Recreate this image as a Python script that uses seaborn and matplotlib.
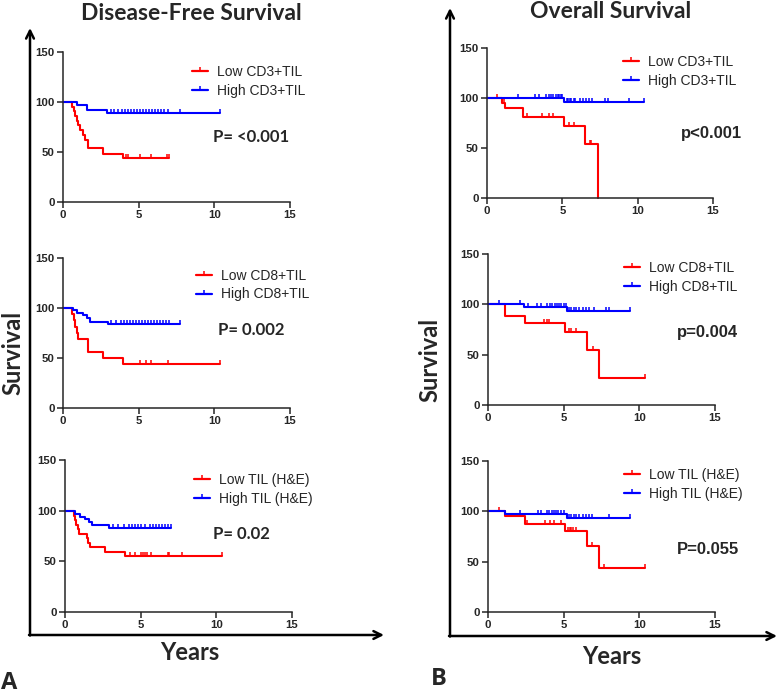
import numpy as np
import pandas as pd
import seaborn as sns
import matplotlib.pyplot as plt
from matplotlib.lines import Line2D

# step curves: drop times (yrs), survival (%) after each drop, last follow-up, censor times
# ---- A: disease-free survival ----
dfs_cd3_low_t = [0, 0.6, 0.7, 0.8, 0.9, 1.0, 1.15, 1.3, 1.45, 1.65, 2.65, 3.95]
dfs_cd3_low_s = [100, 95, 91, 86, 81, 77, 72, 67, 62, 54, 48, 44]
dfs_cd3_low_end = 7.0
dfs_cd3_low_cens = [4.15, 4.3, 5.1, 5.8, 6.9, 7.0]
dfs_cd3_high_t = [0, 0.9, 1.6, 2.9]
dfs_cd3_high_s = [100, 97, 92, 89]
dfs_cd3_high_end = 10.4
dfs_cd3_high_cens = [3.2, 3.4, 3.65, 3.9, 4.1, 4.3, 4.5, 4.7, 4.9, 5.1, 5.3, 5.5, 5.7,
                     5.9, 6.1, 6.3, 6.5, 6.7, 6.95, 7.7, 10.4]

dfs_cd8_low_t = [0, 0.6, 0.7, 0.8, 0.9, 1.0, 1.65, 2.65, 3.95]
dfs_cd8_low_s = [100, 94, 88, 81, 75, 69, 56, 50, 44]
dfs_cd8_low_end = 10.4
dfs_cd8_low_cens = [5.1, 5.5, 5.8, 6.95, 10.4]
dfs_cd8_high_t = [0, 0.68, 0.9, 1.35, 1.57, 1.78, 2.95]
dfs_cd8_high_s = [100, 98, 95, 93, 90, 86, 84]
dfs_cd8_high_end = 7.7
dfs_cd8_high_cens = [3.2, 3.5, 3.8, 4.0, 4.2, 4.4, 4.6, 4.8, 5.0, 5.2, 5.4, 5.6, 5.8,
                     6.0, 6.2, 6.4, 6.6, 6.8, 7.0, 7.7]

dfs_he_low_t = [0, 0.6, 0.65, 0.75, 0.85, 0.95, 1.45, 1.55, 1.65, 2.65, 3.95]
dfs_he_low_s = [100, 95, 91, 86, 82, 77, 73, 68, 64, 59, 55]
dfs_he_low_end = 10.4
dfs_he_low_cens = [4.3, 4.65, 5.0, 5.15, 5.3, 5.45, 5.7, 6.8, 6.9, 7.7, 10.4]
dfs_he_high_t = [0, 0.66, 1.0, 1.3, 1.6, 1.76, 2.93]
dfs_he_high_s = [100, 97, 94, 92, 89, 86, 83]
dfs_he_high_end = 7.0
dfs_he_high_cens = [3.2, 3.5, 3.9, 4.2, 4.4, 4.6, 4.8, 5.0, 5.3, 5.6, 5.8, 6.0, 6.2,
                    6.4, 6.6, 6.8, 7.0]

# ---- B: overall survival ----
os_cd3_low_t = [0, 1.0, 1.17, 2.41, 5.1, 6.48, 7.39]
os_cd3_low_s = [100, 95, 90, 81, 72, 54, 0]
os_cd3_low_end = 7.39
os_cd3_low_cens = [0.68, 1.1, 2.63, 3.67, 4.1, 4.4, 5.45, 5.77, 6.85, 6.92]
os_cd3_high_t = [0, 5.1]
os_cd3_high_s = [100, 96]
os_cd3_high_end = 10.4
os_cd3_high_cens = [2.05, 3.2, 3.45, 3.9, 4.1, 4.25, 4.4, 4.6, 4.7, 4.8, 4.9, 5.0,
                    5.3, 5.4, 5.5, 5.6, 5.75, 5.85, 6.2, 6.4, 6.6, 6.8, 6.95,
                    7.8, 8.0, 9.4, 10.4]

os_cd8_low_t = [0, 1.1, 1.15, 2.45, 5.1, 6.52, 7.36]
os_cd8_low_s = [100, 94, 88, 81, 73, 55, 27]
os_cd8_low_end = 10.4
os_cd8_low_cens = [1.15, 3.7, 3.88, 4.03, 5.35, 5.5, 5.8, 6.96, 10.4]
os_cd8_high_t = [0, 2.4, 5.2]
os_cd8_high_s = [100, 97, 93]
os_cd8_high_end = 9.4
os_cd8_high_cens = [0.73, 2.1, 2.67, 3.26, 3.48, 3.92, 4.1, 4.25, 4.4, 4.55, 4.7,
                    4.85, 5.0, 5.13, 5.35, 5.5, 5.65, 5.8, 6.0, 6.3, 6.5, 6.7, 7.0,
                    7.78, 8.0, 9.4]

os_he_low_t = [0, 1.12, 2.45, 5.1, 6.52, 7.36]
os_he_low_s = [100, 95, 87, 80, 66, 44]
os_he_low_end = 10.4
os_he_low_cens = [0.73, 2.56, 3.75, 4.1, 4.36, 4.8, 5.3, 5.4, 5.5, 5.6, 5.8, 6.9,
                  7.67, 10.4]
os_he_high_t = [0, 1.1, 5.2]
os_he_high_s = [100, 97, 93]
os_he_high_end = 9.4
os_he_high_cens = [2.1, 3.3, 3.5, 3.9, 4.05, 4.2, 4.35, 4.5, 4.65, 4.8, 5.0,
                   5.35, 5.5, 5.65, 5.8, 6.0, 6.3, 6.5, 6.7, 6.9, 8.0, 9.4]

# legend labels and p-values
labels_cd3 = ["Low CD3+TIL", "High CD3+TIL"]
labels_cd8 = ["Low CD8+TIL", "High CD8+TIL"]
labels_he = ["Low TIL (H&E)", "High TIL (H&E)"]
p_dfs = ["P= <0.001", "P= 0.002", "P= 0.02"]
p_os = ["p<0.001", "p=0.004", "P=0.055"]

RED = "#ff0000"
BLUE = "#0000ff"
TICK_FONT = ["Liberation Sans", "DejaVu Sans"]
TITLE_FONT = ["Lato", "DejaVu Sans"]
LETTER_FONT = ["Open Sans", "DejaVu Sans"]

sns.set_style("ticks")
plt.rcParams["font.family"] = TICK_FONT

fig = plt.figure(figsize=(7.78, 6.96), dpi=100)


def km(ax, t, s, end, cens, color):
    x = list(t) + [end]
    y = list(s) + [s[-1]]
    sns.lineplot(x=x, y=y, ax=ax, color=color, lw=1.5, drawstyle="steps-post",
                 estimator=None, sort=False, clip_on=False)
    idx = np.searchsorted(t, cens, side="right") - 1
    cy = np.array(s)[idx]
    ax.plot(cens, cy, linestyle="none", marker=2, ms=3, mew=1.1, color=color,
            clip_on=False)


def panel(rect, low, high, labels, ptxt, ppos, pfont, leg_anchor):
    ax = fig.add_axes(rect)
    km(ax, *low, RED)
    km(ax, *high, BLUE)
    ax.set_xlim(0, 15)
    ax.set_ylim(0, 150)
    ax.set_xticks([0, 5, 10, 15])
    ax.set_yticks([0, 50, 100, 150])
    ax.tick_params(length=4, width=1.1, labelsize=8.2, pad=2)
    for lab in ax.get_xticklabels() + ax.get_yticklabels():
        lab.set_fontweight("bold")
    sns.despine(ax=ax)
    for sp in ["left", "bottom"]:
        ax.spines[sp].set_linewidth(1.1)
    ax.set_xlabel("")
    ax.set_ylabel("")
    handles = [Line2D([], [], color=RED, lw=1.6, marker=2, ms=3, mew=1.1),
               Line2D([], [], color=BLUE, lw=1.6, marker=2, ms=3, mew=1.1)]
    ax.legend(handles, labels, loc="upper left", bbox_to_anchor=leg_anchor,
              frameon=False, fontsize=10, handlelength=1.15, handletextpad=0.65,
              labelspacing=0.35, borderpad=0, borderaxespad=0, numpoints=1)
    ax.text(ppos[0], ppos[1], ptxt, fontsize=12, fontweight="bold",
            family=pfont, va="center", ha="left")
    return ax


W, H = 778.0, 696.0


def rect(x0, x1, y0, y1):
    return [x0 / W, 1 - y1 / H, (x1 - x0) / W, (y1 - y0) / H]


panel(rect(63, 290, 52, 202),
      (dfs_cd3_low_t, dfs_cd3_low_s, dfs_cd3_low_end, dfs_cd3_low_cens),
      (dfs_cd3_high_t, dfs_cd3_high_s, dfs_cd3_high_end, dfs_cd3_high_cens),
      labels_cd3, p_dfs[0], (9.9, 65), TITLE_FONT, (0.57, 0.915))
panel(rect(63, 290, 258, 408),
      (dfs_cd8_low_t, dfs_cd8_low_s, dfs_cd8_low_end, dfs_cd8_low_cens),
      (dfs_cd8_high_t, dfs_cd8_high_s, dfs_cd8_high_end, dfs_cd8_high_cens),
      labels_cd8, p_dfs[1], (10.25, 78), TITLE_FONT, (0.585, 0.93))
panel(rect(65, 292, 460, 612),
      (dfs_he_low_t, dfs_he_low_s, dfs_he_low_end, dfs_he_low_cens),
      (dfs_he_high_t, dfs_he_high_s, dfs_he_high_end, dfs_he_high_cens),
      labels_he, p_dfs[2], (9.8, 77), TITLE_FONT, (0.57, 0.915))
panel(rect(487, 713, 48, 198),
      (os_cd3_low_t, os_cd3_low_s, os_cd3_low_end, os_cd3_low_cens),
      (os_cd3_high_t, os_cd3_high_s, os_cd3_high_end, os_cd3_high_cens),
      labels_cd3, p_os[0], (12.9, 65), TICK_FONT, (0.60, 0.955))
panel(rect(488, 715, 254, 405),
      (os_cd8_low_t, os_cd8_low_s, os_cd8_low_end, os_cd8_low_cens),
      (os_cd8_high_t, os_cd8_high_s, os_cd8_high_end, os_cd8_high_cens),
      labels_cd8, p_os[1], (12.5, 72), TICK_FONT, (0.60, 0.955))
panel(rect(488, 715, 461, 612),
      (os_he_low_t, os_he_low_s, os_he_low_end, os_he_low_cens),
      (os_he_high_t, os_he_high_s, os_he_high_end, os_he_high_cens),
      labels_he, p_os[2], (12.5, 62), TICK_FONT, (0.60, 0.955))

# overlay in pixel coordinates for the big arrows and panel labels
ov = fig.add_axes([0, 0, 1, 1], zorder=-1)
ov.set_xlim(0, W)
ov.set_ylim(H, 0)
ov.axis("off")
arrow = dict(arrowstyle="->", lw=1.8, color="black", mutation_scale=14,
             shrinkA=0, shrinkB=0)
ov.annotate("", xy=(30, 28), xytext=(30, 635.5), arrowprops=arrow)
ov.annotate("", xy=(384, 635), xytext=(29, 635), arrowprops=arrow)
ov.annotate("", xy=(450, 8), xytext=(450, 636.5), arrowprops=arrow)
ov.annotate("", xy=(777, 636), xytext=(449, 636), arrowprops=arrow)

tkw = dict(fontweight="bold", family=TITLE_FONT, ha="center", va="center")
ov.text(191, 14, "Disease-Free Survival", fontsize=16.5, **tkw)
ov.text(611, 11, "Overall Survival", fontsize=16.5, **tkw)
ov.text(13, 353, "Survival", fontsize=17, rotation=90, **tkw)
ov.text(430, 360, "Survival", fontsize=17, rotation=90, **tkw)
ov.text(190, 652, "Years", fontsize=17, **tkw)
ov.text(612, 657, "Years", fontsize=17, **tkw)
lkw = dict(fontweight="bold", family=LETTER_FONT, ha="center", va="center")
ov.text(9, 683, "A", fontsize=17, **lkw)
ov.text(439, 679, "B", fontsize=17, **lkw)

fig.savefig("out.png", dpi=100)
